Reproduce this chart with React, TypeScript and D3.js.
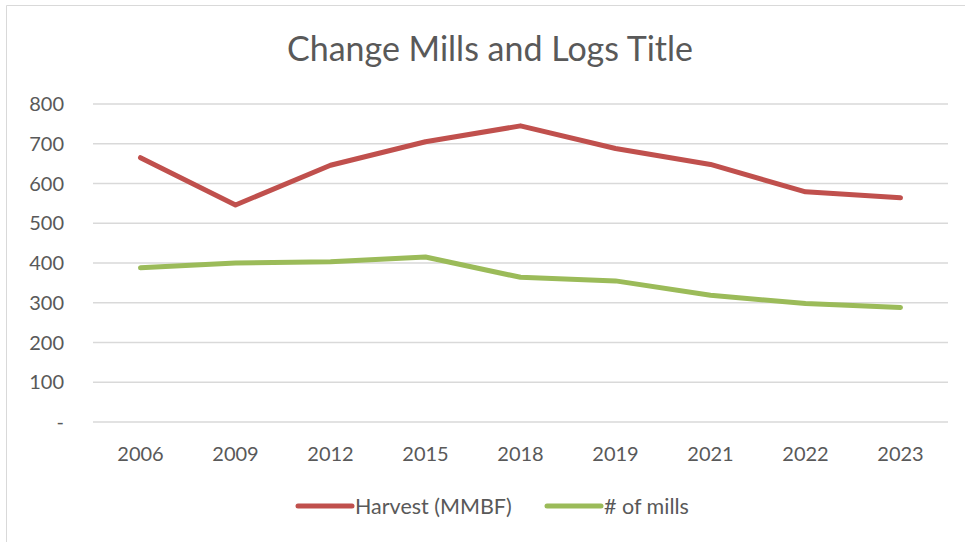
import React, { useEffect, useRef } from 'react'
import * as d3 from 'd3'

const years = ['2006', '2009', '2012', '2015', '2018', '2019', '2021', '2022', '2023']
const harvest = [665, 546, 646, 705, 745, 688, 648, 579, 564]
const mills = [388, 400, 403, 415, 364, 355, 319, 298, 288]
const yTicks = [0, 100, 200, 300, 400, 500, 600, 700, 800]
const seriesNames = ['Harvest (MMBF)', '# of mills']
const seriesColors = ['#C0504D', '#9BBB59']

const W = 965
const H = 542
const FONT = 'Lato, "Open Sans", sans-serif'
const TEXT = '#595959'

const App: React.FC = () => {
  const ref = useRef<SVGSVGElement>(null)

  useEffect(() => {
    const svg = d3.select(ref.current)
    svg.selectAll('*').remove()

    const plot = { left: 93, right: 948, top: 104, bottom: 422 }

    const x = d3.scaleBand().domain(years).range([plot.left, plot.right])
    const y = d3.scaleLinear().domain([0, 800]).range([plot.bottom, plot.top])

    // frame
    svg
      .append('path')
      .attr('d', `M6.5,${H} L6.5,5.5 L${W},5.5`)
      .attr('fill', 'none')
      .attr('stroke', '#d9d9d9')
      .attr('stroke-width', 1)

    svg
      .append('text')
      .attr('x', 490)
      .attr('y', 61)
      .attr('text-anchor', 'middle')
      .attr('font-family', FONT)
      .attr('font-size', 34)
      .attr('fill', TEXT)
      .text('Change Mills and Logs Title')

    // gridlines
    svg
      .append('g')
      .selectAll('line')
      .data(yTicks)
      .join('line')
      .attr('x1', plot.left)
      .attr('x2', plot.right)
      .attr('y1', (d) => y(d))
      .attr('y2', (d) => y(d))
      .attr('stroke', '#d9d9d9')
      .attr('stroke-width', 1.5)

    svg
      .append('g')
      .selectAll('text')
      .data(yTicks)
      .join('text')
      .attr('x', 64)
      .attr('y', (d) => y(d))
      .attr('dy', '0.35em')
      .attr('text-anchor', 'end')
      .attr('font-family', FONT)
      .attr('font-size', 20)
      .attr('fill', TEXT)
      .text((d) => (d === 0 ? '-' : d3.format('d')(d)))

    svg
      .append('g')
      .selectAll('text')
      .data(years)
      .join('text')
      .attr('x', (d) => (x(d) as number) + x.bandwidth() / 2)
      .attr('y', 461)
      .attr('text-anchor', 'middle')
      .attr('font-family', FONT)
      .attr('font-size', 20)
      .attr('fill', TEXT)
      .text((d) => d)

    const line = d3
      .line<number>()
      .x((_, i) => (x(years[i]) as number) + x.bandwidth() / 2)
      .y((d) => y(d))

    ;[harvest, mills].forEach((vals, i) => {
      svg
        .append('path')
        .datum(vals)
        .attr('d', line)
        .attr('fill', 'none')
        .attr('stroke', seriesColors[i])
        .attr('stroke-width', 5)
        .attr('stroke-linecap', 'round')
        .attr('stroke-linejoin', 'round')
    })

    // legend
    const legendX = [298, 547]
    seriesNames.forEach((name, i) => {
      const g = svg.append('g').attr('transform', `translate(${legendX[i]},506)`)
      g.append('line')
        .attr('x1', 0)
        .attr('x2', 54)
        .attr('stroke', seriesColors[i])
        .attr('stroke-width', 5)
        .attr('stroke-linecap', 'round')
      g.append('text')
        .attr('x', 57)
        .attr('dy', '0.35em')
        .attr('font-family', FONT)
        .attr('font-size', 21.5)
        .attr('fill', TEXT)
        .text(name)
    })
  }, [])

  return (
    <svg
      ref={ref}
      width={W}
      height={H}
      style={{ position: 'absolute', left: 0, top: 0, background: '#fff' }}
    />
  )
}

export default App
